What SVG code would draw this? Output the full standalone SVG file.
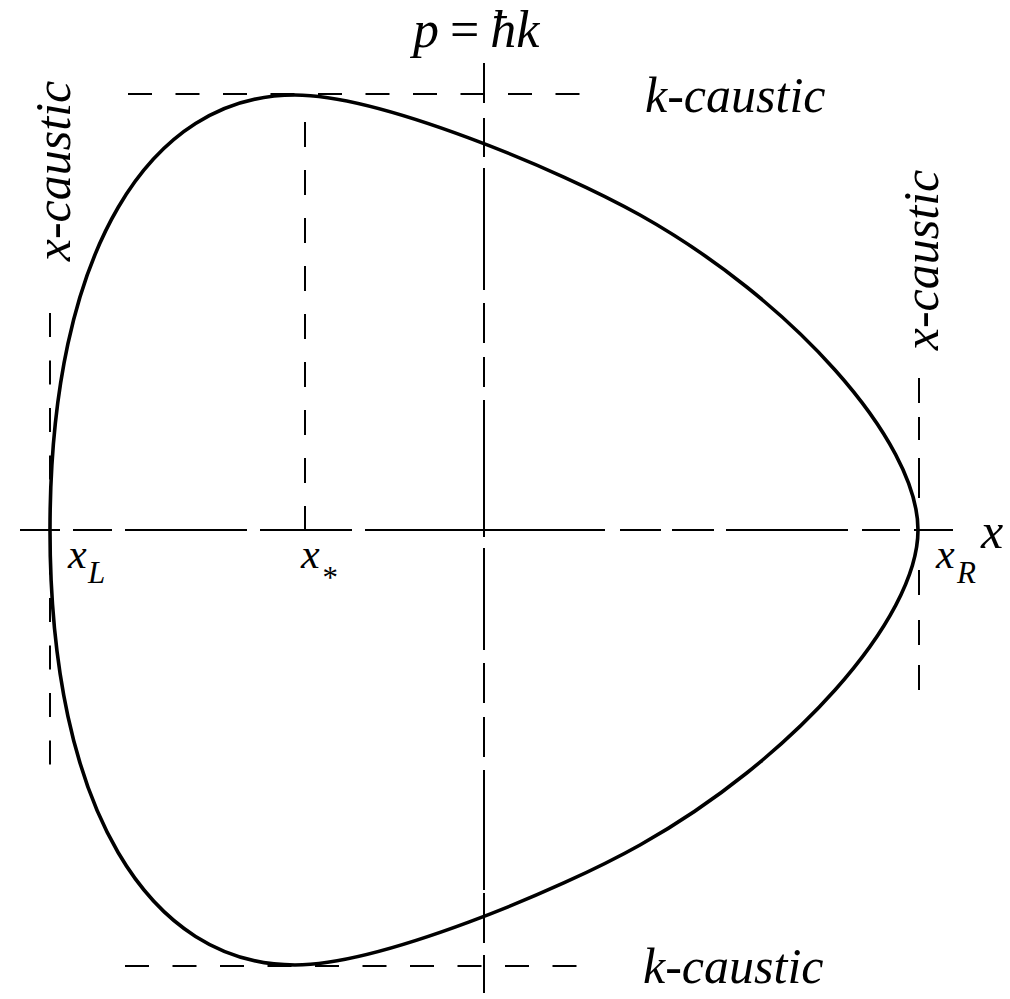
<svg xmlns="http://www.w3.org/2000/svg" width="1010" height="999" viewBox="0 0 1010 999">
<style>
.bg{fill:#fff}
.curve{fill:none;stroke:#000;stroke-width:3.6;stroke-linejoin:round}
.ax{fill:none;stroke:#000;stroke-width:2}
.dash{fill:none;stroke:#000;stroke-width:2;stroke-dasharray:24 23.5}
.lbl{font-family:"Liberation Serif","Times New Roman",serif;font-style:italic;fill:#000}
.big{font-size:50px}
.mid{font-size:42px}
.sub{font-size:31px}
</style>
<rect class="bg" x="0" y="0" width="1010" height="999"/>
<g id="connectors">
  <path id="x-axis" class="ax" d="M20,530H60 M73,530H112 M125,530H247 M260,530H352 M365,530H605 M620,530H661 M672,530H714 M726,530H848 M862,530H900 M914,530H953"/>
  <path id="p-axis" class="ax" d="M484,63V103 M484,118V157 M484,168V290 M484,303V343 M484,357V387 M484,400V537 M484,548V650 M484,663V703 M484,717V757 M484,770V890 M484,893V943 M484,955V993"/>
  <path id="k-caustic-top-line" class="dash" d="M128,94H590"/>
  <path id="k-caustic-bottom-line" class="dash" d="M125,966H590"/>
  <path id="xstar-line" class="dash" style="stroke-dasharray:25 23" d="M305,122V531"/>
  <path id="xL-line" class="dash" d="M50,313V772"/>
  <path id="xR-line" class="ax" d="M919,378V403 M919,417V440 M919,458V498 M919,570V595 M919,620V645 M919,665V690"/>
</g>
<g id="orbit">
  <path class="curve" d="M50,530 C50,250 150,95 295,95 C380,95 560,170 640,215 C790,299 918,440 918,530 C918,620 790,761 640,845 C560,890 380,965 295,965 C150,965 50,810 50,530 Z"/>
</g>
<g id="label-p">
  <text class="lbl" x="413" y="47" style="font-size:52px"><tspan>p</tspan><tspan font-style="normal" dx="11">=</tspan><tspan dx="11">ħk</tspan></text>
</g>
<g id="label-k-top">
  <text class="lbl big" x="645" y="112">k-caustic</text>
</g>
<g id="label-k-bottom">
  <text class="lbl big" x="643" y="983">k-caustic</text>
</g>
<g id="label-x-left">
  <text class="lbl big" transform="translate(70,171) rotate(-90)" text-anchor="middle">x-caustic</text>
</g>
<g id="label-x-right">
  <text class="lbl big" transform="translate(938,260) rotate(-90)" text-anchor="middle">x-caustic</text>
</g>
<g id="label-xL">
  <text class="lbl mid" x="68" y="568">x</text>
  <text class="lbl sub" x="88" y="583">L</text>
</g>
<g id="label-xstar">
  <text class="lbl mid" x="301" y="568">x</text>
  <text class="lbl sub" x="321" y="588">*</text>
</g>
<g id="label-xR">
  <text class="lbl mid" x="936" y="568">x</text>
  <text class="lbl sub" x="957" y="583">R</text>
</g>
<g id="label-x-axis">
  <text class="lbl big" x="981" y="548">x</text>
</g>
</svg>
